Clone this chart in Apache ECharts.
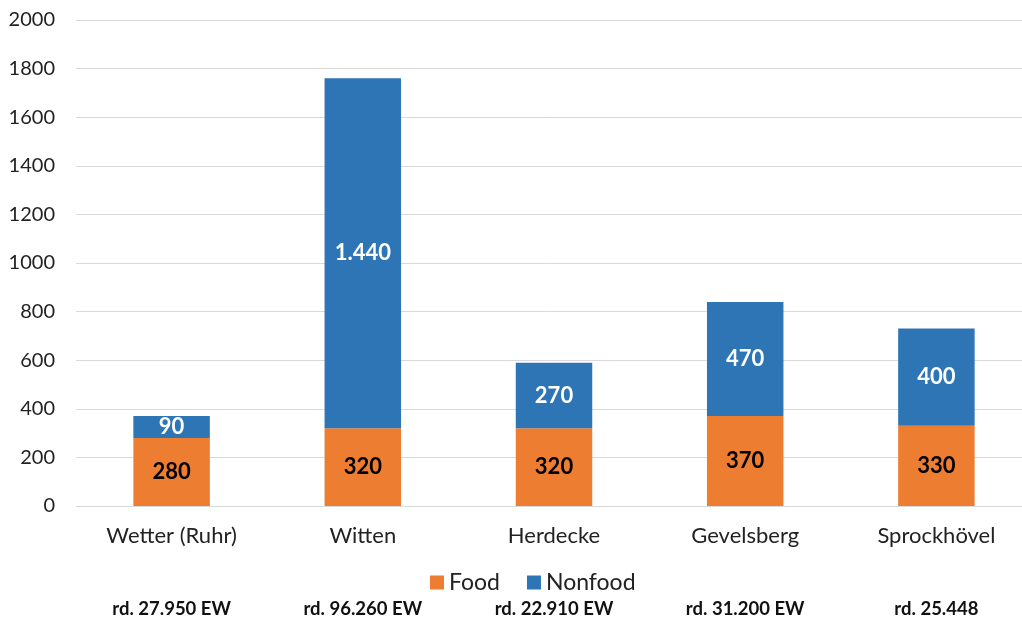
<!DOCTYPE html>
<html>
<head>
<meta charset="utf-8">
<script src="https://cdn.jsdelivr.net/npm/echarts@6/dist/echarts.min.js"></script>
<style>
  html, body { margin: 0; padding: 0; background: #fff; }
  #chart { width: 1022px; height: 621px; }
</style>
</head>
<body>
<div id="chart"></div>
<script>
// Verkaufsfläche je Stadt (Food / Nonfood) mit Einwohnerzahlen
const categories = ['Wetter (Ruhr)', 'Witten', 'Herdecke', 'Gevelsberg', 'Sprockhövel'];
const einwohner = ['rd. 27.950 EW', 'rd. 96.260 EW', 'rd. 22.910 EW', 'rd. 31.200 EW', 'rd. 25.448'];
const food = [280, 320, 320, 370, 330];
const nonfood = [90, 1440, 270, 470, 400];
const yTicks = { min: 0, max: 2000, interval: 200 };

const FONT = 'Lato, "Open Sans", "Noto Sans", sans-serif';
const fmtDe = v => String(v).replace(/\B(?=(\d{3})+(?!\d))/g, '.');

const chart = echarts.init(document.getElementById('chart'), null, { renderer: 'canvas' });
chart.setOption({
  animation: false,
  textStyle: { fontFamily: FONT },
  grid: { left: 76, top: 20, width: 956, height: 486, containLabel: false, outerBoundsMode: 'none' },
  legend: {
    data: ['Food', 'Nonfood'],
    top: 566, left: 425,
    itemWidth: 14, itemHeight: 14, itemGap: 27, itemTextGap: 6,
    icon: 'rect',
    textStyle: { fontSize: 23, color: '#222', fontFamily: FONT }
  },
  xAxis: [
    {
      type: 'category', data: categories,
      axisLine: { lineStyle: { color: '#d9d9d9' } },
      axisTick: { show: false },
      axisLabel: { fontSize: 22, color: '#222', margin: 19, fontFamily: FONT }
    },
    {
      type: 'category', data: einwohner, position: 'bottom', offset: 84,
      axisLine: { show: false }, axisTick: { show: false },
      axisLabel: { fontSize: 18.5, fontWeight: 'bold', color: '#111', margin: 10, fontFamily: FONT }
    }
  ],
  yAxis: {
    type: 'value', min: yTicks.min, max: yTicks.max, interval: yTicks.interval,
    axisLine: { show: false }, axisTick: { show: false },
    axisLabel: { fontSize: 20, color: '#222', margin: 21, fontFamily: FONT, formatter: v => String(v) },
    splitLine: { lineStyle: { color: '#d9d9d9', width: 1 } }
  },
  series: [
    {
      name: 'Food', type: 'bar', stack: 'total', data: food, barWidth: '40%',
      itemStyle: { color: '#ED7D31' },
      label: { show: true, position: 'inside', color: '#000', fontSize: 22, fontWeight: 'bold',
               fontFamily: FONT, formatter: p => fmtDe(p.value) }
    },
    {
      name: 'Nonfood', type: 'bar', stack: 'total', data: nonfood, barWidth: '40%',
      itemStyle: { color: '#2E75B6' },
      label: { show: true, position: 'inside', color: '#fff', fontSize: 22, fontWeight: 'bold',
               fontFamily: FONT, formatter: p => fmtDe(p.value) }
    }
  ]
});
</script>
</body>
</html>
